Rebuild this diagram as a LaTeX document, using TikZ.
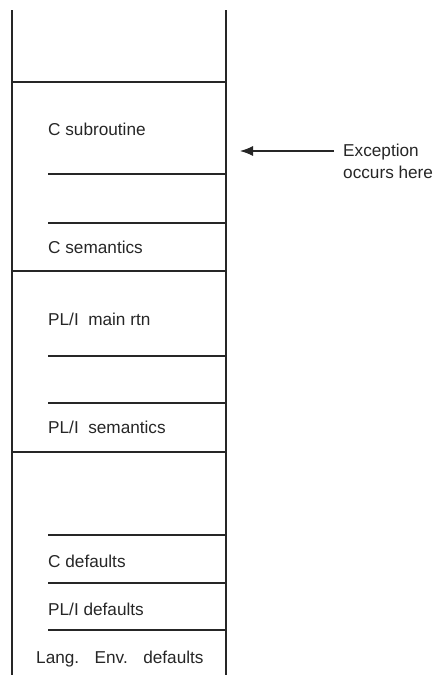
\documentclass[tikz,border=0pt]{standalone}
\usepackage{fontspec}
\setmainfont{Liberation Sans}
\usetikzlibrary{arrows.meta}
\begin{document}
\begin{tikzpicture}[x=1pt,y=-1pt,
  rule/.style={line width=1.4pt,black!85},
  label/.style={anchor=base west,inner sep=0pt,font=\fontsize{17.2}{22}\selectfont,text=black!85},
  pointer/.style={line width=1.1pt,black!85,-{Latex[length=13pt,width=10pt]}}]
\useasboundingbox (0,0) rectangle (433,675);
% outer walls of the stack
\draw[rule] (12,10) -- (12,675);
\draw[rule] (226,10) -- (226,675);
% full-width separators between frames
\foreach \y in {82,271,452} \draw[rule] (12,\y) -- (226,\y);
% partial separators inside frames
\foreach \y in {174,223,356,403,535,583,630} \draw[rule] (48,\y) -- (226,\y);
% frame contents
\node[label] (csub) at (48,135) {C subroutine};
\node[label] (csem) at (48,253) {C semantics};
\node[label] (plmain) at (48,325) {PL/I\hspace{0.55em}main rtn};
\node[label] (plsem) at (48,433) {PL/I\hspace{0.55em}semantics};
\node[label] (cdef) at (48,567) {C defaults};
\node[label] (pldef) at (48,615) {PL/I defaults};
\node[label] (lang) at (36,663) {Lang.\hspace{0.9em}Env.\hspace{0.9em}defaults};
% exception marker
\node[label,align=left,anchor=west] (exc) at (343,161) {Exception\\occurs here};
\coordinate (tip) at (240,151);
\draw[pointer] (exc.west |- tip) ++(-9,0) -- (tip);
\end{tikzpicture}
\end{document}
